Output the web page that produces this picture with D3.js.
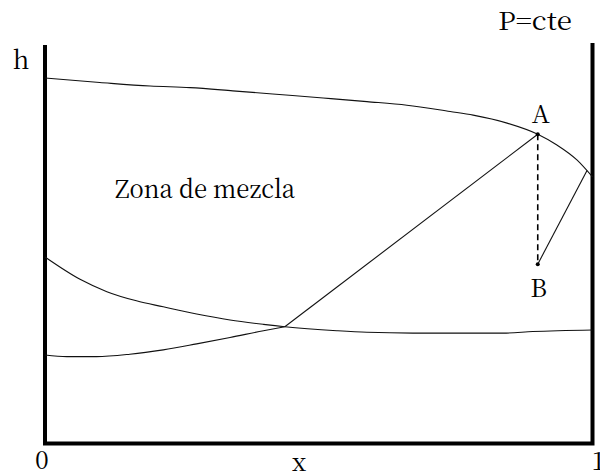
<!DOCTYPE html>
<html>
<head>
<meta charset="utf-8">
<script src="https://cdn.jsdelivr.net/npm/d3@7"></script>
<style>
  body { margin: 0; background: #fff; }
</style>
</head>
<body>
<svg id="chart" width="600" height="475"></svg>
<script>
// Enthalpy–composition (h–x) diagram of a binary mixture at constant pressure.
// Each curve is a list of [x, h] pairs, h normalised to the frame height.

// Saturated vapour line (upper boundary of the mixing zone)
const vaporCurve = [
  [0.000, 0.917], [0.100, 0.906], [0.192, 0.897], [0.265, 0.893],
  [0.343, 0.885], [0.416, 0.877], [0.508, 0.867], [0.588, 0.858],
  [0.661, 0.849], [0.740, 0.833], [0.782, 0.824], [0.844, 0.804],
  [0.900, 0.776], [0.935, 0.749], [0.972, 0.711], [1.000, 0.669]
];

// Saturated liquid line
const liquidCurve = [
  [0.000, 0.468], [0.064, 0.412], [0.113, 0.381], [0.167, 0.358],
  [0.216, 0.343], [0.277, 0.325], [0.338, 0.310], [0.399, 0.299],
  [0.438, 0.293], [0.533, 0.283], [0.588, 0.279], [0.672, 0.277],
  [0.837, 0.277], [0.891, 0.281], [1.000, 0.285]
];

// Lower curve meeting the liquid line at the mixing point M
const lowerCurve = [
  [0.000, 0.222], [0.040, 0.218], [0.094, 0.218], [0.155, 0.224],
  [0.216, 0.235], [0.277, 0.250], [0.338, 0.266], [0.399, 0.283],
  [0.438, 0.293]
];

// Characteristic points
const pointM = [0.438, 0.293];
const pointA = [0.900, 0.776];
const pointB = [0.900, 0.450];
const pointC = [0.990, 0.685];

// Text labels
const axisTickLabels = ["0", "1"];
const xAxisTitle = "x";
const yAxisTitle = "h";
const pressureNote = "P=cte";
const zoneLabel = "Zona de mezcla";

const svg = d3.select("#chart");

const x = d3.scaleLinear().domain([0, 1]).range([45, 592.5]);
const y = d3.scaleLinear().domain([0, 1]).range([443.5, 45]);

// Frame: left axis, bottom axis, right wall
svg.append("path")
  .attr("d", d3.line()([
    [x(0), y(1)], [x(0), y(0)], [x(1), y(0)], [x(1), y(1.005)]
  ]))
  .attr("fill", "none")
  .attr("stroke", "#000")
  .attr("stroke-width", 4)
  .attr("stroke-linejoin", "miter");

const curve = d3.line()
  .x(d => x(d[0]))
  .y(d => y(d[1]))
  .curve(d3.curveMonotoneX);

const straight = d3.line()
  .x(d => x(d[0]))
  .y(d => y(d[1]));

const thin = sel => sel.attr("fill", "none").attr("stroke", "#111").attr("stroke-width", 1.1);

svg.append("path").attr("d", curve(vaporCurve)).call(thin);
svg.append("path").attr("d", curve(liquidCurve)).call(thin);
svg.append("path").attr("d", curve(lowerCurve)).call(thin);

// Tie line from M to A
svg.append("path").attr("d", straight([pointM, pointA])).call(thin);

// Dashed vertical A → B
svg.append("path").attr("d", straight([pointA, pointB]))
  .attr("fill", "none").attr("stroke", "#000")
  .attr("stroke-width", 1.6).attr("stroke-dasharray", "6,4");

// B → C on the vapour line
svg.append("path").attr("d", straight([pointB, pointC])).call(thin);

// Point markers
svg.selectAll("circle.pt")
  .data([pointA, pointB])
  .join("circle")
  .attr("class", "pt")
  .attr("cx", d => x(d[0]))
  .attr("cy", d => y(d[1]))
  .attr("r", 2)
  .attr("fill", "#000");

// Labels: [text, x, y, anchor, stretched width]
const labels = [
  ["A", x(pointA[0]) + 3, y(pointA[1]) - 11, "middle", null],
  ["B", x(pointB[0]) + 1, y(pointB[1]) + 33, "middle", null],
  [zoneLabel, 115, 198, "start", 180],
  [yAxisTitle, 21, 69, "middle", null],
  [pressureNote, 498, 30, "start", 74],
  [xAxisTitle, 299, 471, "middle", null],
  [axisTickLabels[0], x(0) - 3, 469, "middle", null],
  [axisTickLabels[1], x(1) + 6, 470, "middle", null]
];

svg.selectAll("text.lbl")
  .data(labels)
  .join("text")
  .attr("class", "lbl")
  .attr("x", d => d[1])
  .attr("y", d => d[2])
  .attr("text-anchor", d => d[3])
  .attr("font-size", 25)
  .style("font-family", '"Noto Serif CJK SC", "Liberation Serif"')
  .attr("fill", "#000")
  .each(function (d) {
    if (d[4]) d3.select(this).attr("textLength", d[4]).attr("lengthAdjust", "spacingAndGlyphs");
  })
  .text(d => d[0]);
</script>
</body>
</html>
